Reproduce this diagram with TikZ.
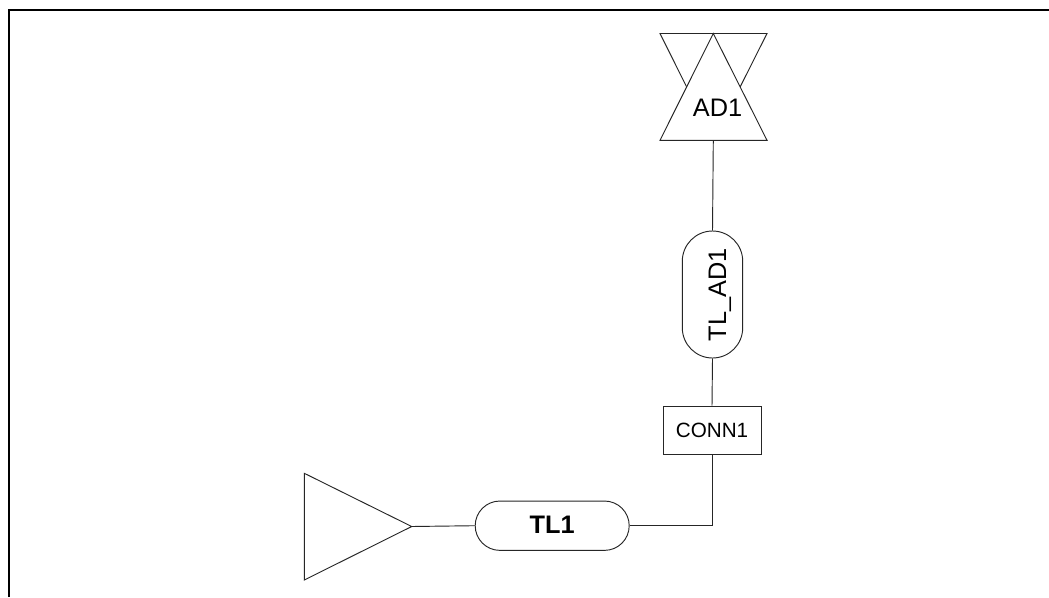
\documentclass[tikz,border=0pt]{standalone}
\usepackage{fontspec}
\setmainfont{Liberation Sans}
\usetikzlibrary{shapes.misc}
\tikzset{
  x=0.75pt,y=-0.75pt,
  wire/.style={draw=black!85,line width=0.7pt},
  shapeline/.style={draw=black!85,line width=0.7pt,fill=white,line join=miter},
  capsule/.style={shapeline,rounded rectangle,inner sep=0pt,font=\fontsize{18.5}{20}\selectfont},
  connbox/.style={shapeline,rectangle,inner sep=0pt,minimum width=73.5pt,minimum height=36pt,font=\fontsize{15.5}{18}\selectfont},
  lab/.style={inner sep=0pt,font=\fontsize{19}{20}\selectfont},
  frameline/.style={draw=black,line width=1.8pt}
}
\begin{document}
\begin{tikzpicture}
\useasboundingbox (0,0) rectangle (1049,597);
\fill[white] (0,0) rectangle (1049,597);
\draw[frameline] (9,597) -- (9,10) -- (1049,10);
% antenna: inverted triangle behind an upright one
\coordinate (adtl) at (660,33.5);
\coordinate (adtr) at (767,33.5);
\coordinate (adapex) at (713.3,33.5);
\coordinate (adbl) at (660,140.3);
\coordinate (adbr) at (767,140.3);
\coordinate (adbase) at (713.3,140.3);
\draw[shapeline] (adtl) -- (adtr) -- (adbase) -- cycle;
\draw[shapeline] (adapex) -- (adbr) -- (adbl) -- cycle;
\node[lab] (ad1) at (717.5,107.7) {AD1};
% amplifier
\coordinate (ampt) at (304.3,473.3);
\coordinate (ampb) at (304.3,580);
\coordinate (amptip) at (411.7,526.5);
\draw[shapeline] (ampt) -- (amptip) -- (ampb) -- cycle;
% transmission lines and connector
\node[capsule,minimum width=95.25pt,minimum height=45.3pt,rotate=90] (tlad) at (712.5,294.5) {};
\node[lab,rotate=90] (tladtext) at (720,295) {TL\_AD1};
\node[connbox] (conn) at (712,430.2) {CONN1};
\node[capsule,minimum width=115.5pt,minimum height=37pt,font=\fontsize{19}{20}\selectfont\bfseries] (tl) at (552.2,525.7) {\raisebox{0.8pt}{TL1}};
% connectors
\draw[wire] (adbase) -- (tlad.east);
\draw[wire] (tlad.west) -- (conn.north);
\draw[wire] (amptip) -- (tl.west);
\draw[wire] (tl.east) -| (conn.south);
\end{tikzpicture}
\end{document}
